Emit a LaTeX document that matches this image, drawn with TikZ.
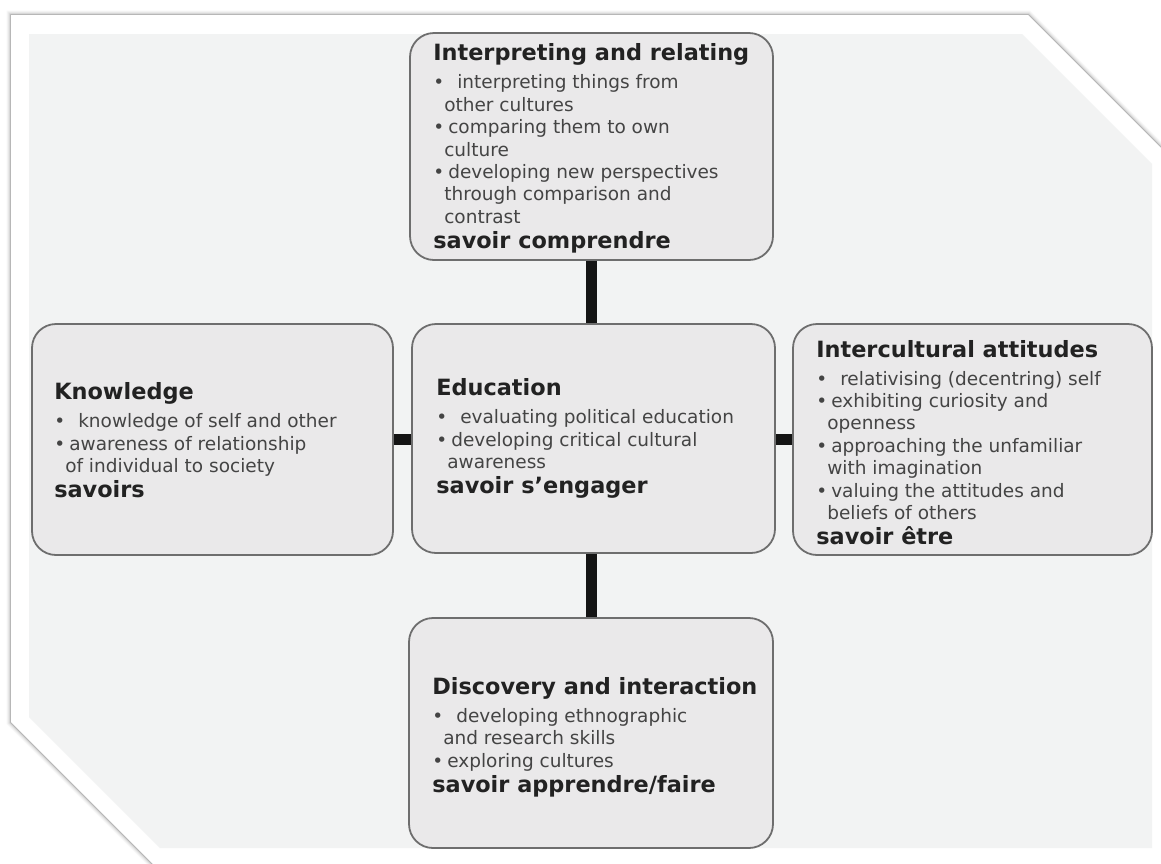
\documentclass[tikz,border=0pt]{standalone}
\usepackage{fontspec}
\setmainfont{DejaVu Sans}
\usetikzlibrary{calc}
\definecolor{bgpanel}{HTML}{F2F3F3}
\definecolor{boxfill}{HTML}{EAE9EA}
\definecolor{boxline}{HTML}{6E6E6E}
\definecolor{bodytext}{HTML}{444444}
\definecolor{titletext}{HTML}{222222}
\newcommand{\ttl}[1]{{\fontsize{22.4}{28}\selectfont\bfseries\color{titletext}#1}}
\newcommand{\bul}{\makebox[15pt][l]{\textbullet}}
\newcommand{\cnt}{\hspace*{11pt}}
\begin{document}
\begin{tikzpicture}[x=1pt,y=-1pt,
  sbox/.style={draw=boxline, line width=1.8pt, fill=boxfill, rounded corners=24pt, inner sep=0pt},
  txt/.style={anchor=west, align=left, inner sep=0pt, font=\fontsize{18.5}{22.4}\selectfont, text=bodytext},
  conn/.style={line width=10.5pt, draw=black!92}]
\useasboundingbox (0,0) rectangle (1161,863);
\begin{scope}
\clip (0,0) rectangle (1161,863);
\foreach \w/\o in {9/0.03,7/0.04,5/0.06,3/0.09,1.5/0.15}
  \draw[line width=\w pt, black, opacity=\o, line join=miter]
    (11,15) -- (1028,15) -- (1220,207) -- (1220,920) -- (209,920) -- (11,722) -- cycle;
\fill[white] (11,15) -- (1028,15) -- (1220,207) -- (1220,920) -- (209,920) -- (11,722) -- cycle;
\fill[bgpanel] (29,34) -- (1022,34) -- (1152,164) -- (1152,848) -- (160,848) -- (29,717) -- cycle;
\end{scope}

% boxes
\path (591.5,146.5) node[sbox, minimum width=363pt, minimum height=227pt] (top) {};
\path (212.5,439.5) node[sbox, minimum width=361pt, minimum height=231pt] (lft) {};
\path (593.5,438.5) node[sbox, minimum width=363pt, minimum height=229pt] (cen) {};
\path (972.5,439.5) node[sbox, minimum width=359pt, minimum height=231pt] (rgt) {};
\path (591,733) node[sbox, minimum width=364pt, minimum height=230pt] (bot) {};

% connectors
\draw[conn] (top.south) -- (top.south |- cen.north);
\draw[conn] (cen.south -| top.south) -- (bot.north -| top.south);
\draw[conn] (lft.east) -- (lft.east -| cen.west);
\draw[conn] (cen.east |- lft.east) -- (rgt.west |- lft.east);

\node[txt] (toptxt) at ($(top.west)+(24,2)$) {%
\ttl{Interpreting and relating}\\[5.6pt]
\bul\, interpreting things from\\
\cnt other cultures\\
\bul comparing them to own\\
\cnt culture\\
\bul developing new perspectives\\
\cnt through comparison and\\
\cnt contrast\\[2.6pt]
\ttl{savoir comprendre}};

\node[txt] (lfttxt) at ($(lft.west)+(23,1)$) {%
\ttl{Knowledge}\\[5.6pt]
\bul\, knowledge of self and other\\
\bul awareness of relationship\\
\cnt of individual to society\\[2.6pt]
\ttl{savoirs}};

\node[txt] (centxt) at ($(cen.west)+(25,0)$) {%
\ttl{Education}\\[5.6pt]
\bul\, evaluating political education\\
\bul developing critical cultural\\
\cnt awareness\\[2.6pt]
\ttl{savoir s’engager}};

\node[txt] (rgttxt) at ($(rgt.west)+(24,3)$) {%
\ttl{Intercultural attitudes}\\[5.6pt]
\bul\, relativising (decentring) self\\
\bul exhibiting curiosity and\\
\cnt openness\\
\bul approaching the unfamiliar\\
\cnt with imagination\\
\bul valuing the attitudes and\\
\cnt beliefs of others\\[2.6pt]
\ttl{savoir être}};

\node[txt] (bottxt) at ($(bot.west)+(24,4)$) {%
\ttl{Discovery and interaction}\\[5.6pt]
\bul\, developing ethnographic\\
\cnt and research skills\\
\bul exploring cultures\\[2.6pt]
\ttl{savoir apprendre/faire}};
\end{tikzpicture}
\end{document}
